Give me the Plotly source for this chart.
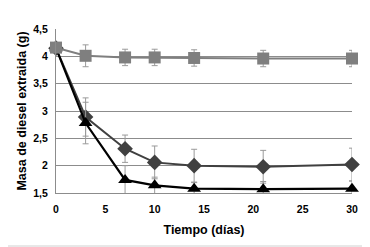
import plotly.graph_objects as go

dias = [0, 3, 7, 10, 14, 21, 30]
cuadrado = [4.16, 4.01, 3.98, 3.98, 3.97, 3.96, 3.96]
cuadrado_err = [0.05, 0.2, 0.15, 0.15, 0.15, 0.15, 0.15]
rombo = [4.15, 2.89, 2.31, 2.06, 2.0, 1.98, 2.02]
rombo_err = [0.05, 0.35, 0.25, 0.3, 0.3, 0.3, 0.3]
triangulo = [4.15, 2.78, 1.74, 1.64, 1.58, 1.57, 1.58]
triangulo_err = [0.05, 0.38, 0.26, 0.15, 0.11, 0.14, 0.14]

yticks = [1.5, 2, 2.5, 3, 3.5, 4, 4.5]
xticks = [0, 5, 10, 15, 20, 25, 30]

fig = go.Figure()

def err(vals):
    return dict(type="data", array=vals, color="#9a9a9a", thickness=1, width=3)

fig.add_trace(go.Scatter(x=dias, y=rombo, mode="lines+markers",
                         line=dict(color="#404040", width=2),
                         marker=dict(symbol="diamond", size=12, color="#404040"),
                         error_y=err(rombo_err), cliponaxis=False))
fig.add_trace(go.Scatter(x=dias, y=triangulo, mode="lines+markers",
                         line=dict(color="#000000", width=2.2),
                         marker=dict(symbol="triangle-up", size=12, color="#000000"),
                         error_y=err(triangulo_err), cliponaxis=False))
fig.add_trace(go.Scatter(x=dias, y=cuadrado, mode="lines+markers",
                         line=dict(color="#7f7f7f", width=2),
                         marker=dict(symbol="square", size=12, color="#7f7f7f"),
                         error_y=err(cuadrado_err), cliponaxis=False))

# page has an 8px body margin, so the figure is sized to end at the window edge
W, H = 362, 239
ml, mr, mt, mb = 48, 14, 21, 54
pw, ph = W - ml - mr, H - mt - mb

fig.update_layout(
    width=W, height=H,
    margin=dict(l=ml, r=mr, t=mt, b=mb),
    paper_bgcolor="white", plot_bgcolor="white",
    showlegend=False,
    separators=",.",
    font=dict(family="Liberation Sans, Arial, sans-serif", color="#000000"),
    xaxis=dict(range=[0, 30], tickvals=xticks, showgrid=False, zeroline=False,
               showline=True, linecolor="#8c8c8c", linewidth=1,
               ticks="", ticklabelstandoff=6,
               tickfont=dict(size=10.5, family="Liberation Sans, Arial", weight="bold"),
               title=dict(text="<b>Tiempo (días)</b>", font=dict(size=12.5), standoff=11)),
    yaxis=dict(range=[1.5, 4.5], tickvals=yticks, showgrid=True, gridcolor="#8c8c8c",
               gridwidth=1, zeroline=False, showline=True, linecolor="#8c8c8c",
               linewidth=1, ticks="", tickformat=".1~f", ticklabelstandoff=5,
               tickfont=dict(size=10.5, family="Liberation Sans, Arial", weight="bold"),
               title=dict(text="<b>Masa de diesel extraida (g)</b>", font=dict(size=12.5), standoff=3)),
    shapes=[dict(type="rect", xref="paper", yref="paper",
                 x0=-(ml + 20) / pw, x1=1 + (mr - 1) / pw,
                 y0=-(mb - 1) / ph, y1=1 + (mt + 20) / ph,
                 line=dict(color="#d0d0d0", width=1), layer="below")],
)

fig.write_html("out.html")
